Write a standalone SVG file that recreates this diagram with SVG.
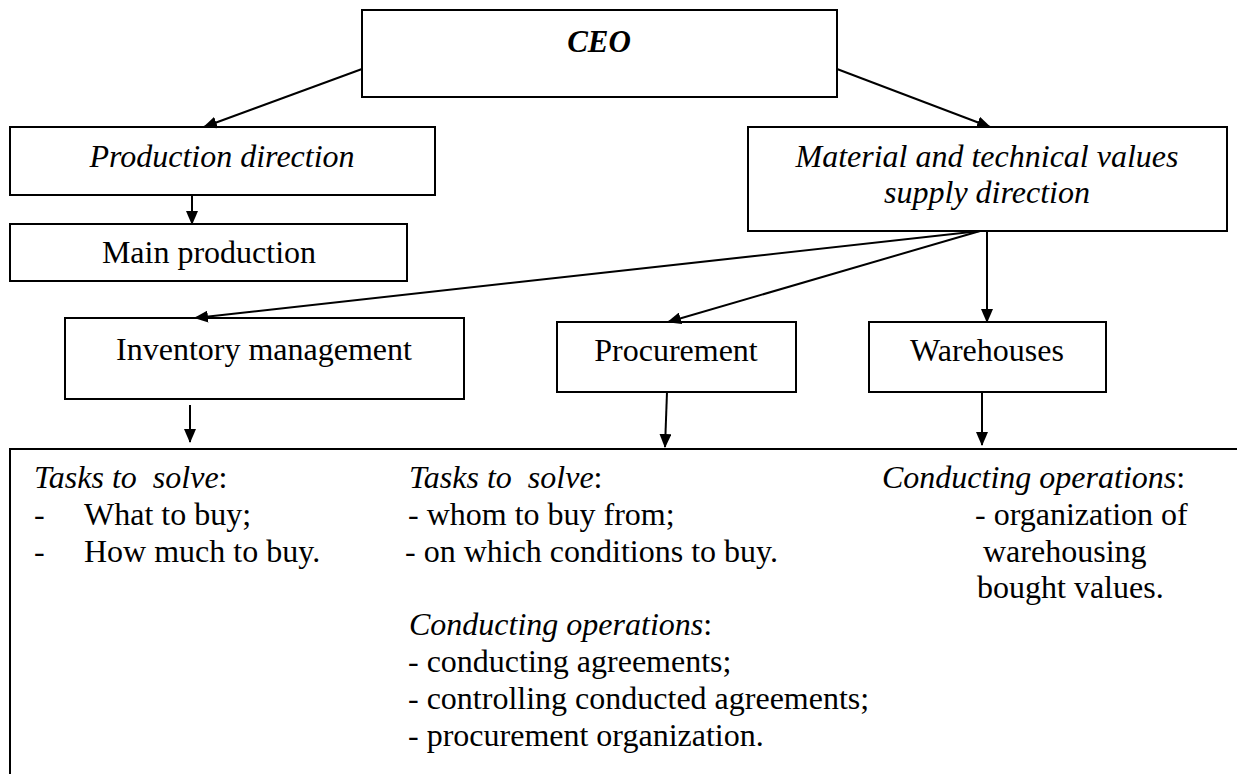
<svg xmlns="http://www.w3.org/2000/svg" width="1237" height="774" viewBox="0 0 1237 774">
<style>
 .box{fill:#fff;stroke:#000;stroke-width:2}
 .t{font-family:"Liberation Serif","Times New Roman",serif;font-size:32px;fill:#000}
 .i{font-style:italic}
 .n{font-style:normal}
 .c{text-anchor:middle}
 .b{font-weight:bold}
 #connectors line{stroke:#000;stroke-width:2;marker-end:url(#ah)}
</style>
<defs>
 <marker id="ah" viewBox="0 0 14 12" refX="13" refY="6" markerWidth="14" markerHeight="12" markerUnits="userSpaceOnUse" orient="auto">
  <path d="M0,0 L14,6 L0,12 z" fill="#000"/>
 </marker>
</defs>
<rect width="1237" height="774" fill="#fff"/>

<g id="ceo">
 <rect class="box" x="362" y="10" width="475" height="87"/>
 <text class="t i b c" x="599" y="52" style="font-size:31px">CEO</text>
</g>
<g id="production-direction">
 <rect class="box" x="10" y="127" width="425" height="68"/>
 <text class="t i c" x="222" y="167">Production direction</text>
</g>
<g id="main-production">
 <rect class="box" x="10" y="224" width="397" height="57"/>
 <text class="t c" x="209" y="263">Main production</text>
</g>
<g id="supply-direction">
 <rect class="box" x="748" y="127" width="479" height="104"/>
 <text class="t i c" x="987" y="167">Material and technical values</text>
 <text class="t i c" x="987" y="203">supply direction</text>
</g>
<g id="inventory-management">
 <rect class="box" x="65" y="318" width="399" height="81"/>
 <text class="t c" x="264" y="360">Inventory management</text>
</g>
<g id="procurement">
 <rect class="box" x="557" y="322" width="239" height="70"/>
 <text class="t c" x="676" y="361">Procurement</text>
</g>
<g id="warehouses">
 <rect class="box" x="869" y="322" width="237" height="70"/>
 <text class="t c" x="987" y="361">Warehouses</text>
</g>

<g id="tasks-panel">
 <rect class="box" x="10" y="449" width="1240" height="340"/>
 <text class="t" x="34" y="488" xml:space="preserve"><tspan class="i">Tasks to  solve</tspan>:</text>
 <text class="t" y="525"><tspan x="34">-</tspan><tspan x="84">What to buy;</tspan></text>
 <text class="t" y="562"><tspan x="34">-</tspan><tspan x="84">How much to buy.</tspan></text>

 <text class="t" x="409" y="488" xml:space="preserve"><tspan class="i">Tasks to  solve</tspan>:</text>
 <text class="t" x="408" y="525">- whom to buy from;</text>
 <text class="t" x="405" y="562">- on which conditions to buy.</text>
 <text class="t" x="409" y="635"><tspan class="i">Conducting operations</tspan>:</text>
 <text class="t" x="408" y="672">- conducting agreements;</text>
 <text class="t" x="408" y="709">- controlling conducted agreements;</text>
 <text class="t" x="408" y="746">- procurement organization.</text>

 <text class="t" x="882" y="488"><tspan class="i">Conducting operations</tspan>:</text>
 <text class="t" x="975" y="525">- organization of</text>
 <text class="t" x="983" y="562">warehousing</text>
 <text class="t" x="977" y="598">bought values.</text>
</g>

<g id="connectors">
 <line x1="362" y1="69" x2="204" y2="127"/>
 <line x1="837" y1="69" x2="990" y2="127"/>
 <line x1="192" y1="195" x2="192" y2="224"/>
 <line x1="980" y1="231" x2="195" y2="318"/>
 <line x1="980" y1="231" x2="668" y2="322"/>
 <line x1="987" y1="231" x2="987" y2="322"/>
 <line x1="190" y1="405" x2="190" y2="442"/>
 <line x1="667" y1="392" x2="665" y2="447"/>
 <line x1="982" y1="392" x2="982" y2="445"/>
</g>
</svg>
